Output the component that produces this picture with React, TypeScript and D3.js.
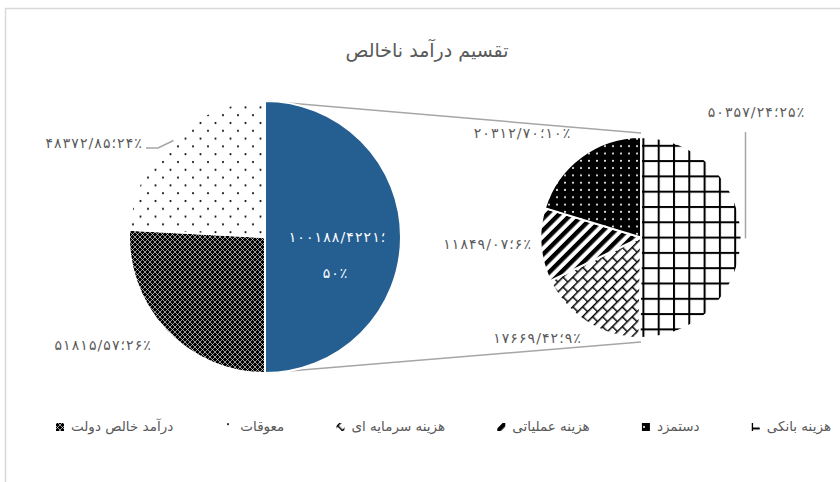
import React, { useEffect, useRef } from "react";
import * as d3 from "d3";

// ---------- data ----------
const chartTitle = "تقسیم درآمد ناخالص";

const mainCategories = ["سایر", "درآمد خالص دولت", "معوقات"];
const mainValues = [100188.4221, 51815.57, 48372.85];
const mainLabels = [["۱۰۰۱۸۸/۴۲۲۱؛", "۵۰٪"], ["۵۱۸۱۵/۵۷؛۲۶٪"], ["۴۸۳۷۲/۸۵؛۲۴٪"]];

const subCategories = ["هزینه بانکی", "هزینه سرمایه ای", "هزینه عملیاتی", "دستمزد"];
const subValues = [50357.24, 17669.42, 11849.07, 20312.7];
const subLabels = ["۵۰۳۵۷/۲۴؛۲۵٪", "۱۷۶۶۹/۴۲؛۹٪", "۱۱۸۴۹/۰۷؛۶٪", "۲۰۳۱۲/۷۰؛۱۰٪"];

const legendOrder = ["هزینه بانکی", "دستمزد", "هزینه عملیاتی", "هزینه سرمایه ای", "معوقات", "درآمد خالص دولت"];

// ---------- styling / layout ----------
const W = 840;
const H = 482;
const FONT = "'DejaVu Sans', sans-serif";
const fillByCategory: Record<string, string> = {
  "سایر": "#255E91",
  "درآمد خالص دولت": "url(#pCross)",
  "معوقات": "url(#pDots)",
  "هزینه بانکی": "url(#pGrid)",
  "هزینه سرمایه ای": "url(#pBrick)",
  "هزینه عملیاتی": "url(#pStripe)",
  "دستمزد": "url(#pBlackDots)",
};
const mainGeo = { cx: 265, cy: 237, r: 136 };
const subGeo = { cx: 641, cy: 237.5, r: 100.5 };
// label offsets relative to pie centre: [dx, dy, anchor]
const mainLabelLayout: [number, number, string][] = [
  [0, 0, "middle"],
  [-113, 113, "end"],
  [-122, -89, "end"],
];
const subLabelLayout: [number, number, string][] = [
  [115, -120.5, "middle"],
  [-104, 105.5, "middle"],
  [-109, 11.5, "end"],
  [-119, -99.5, "middle"],
];
const LABEL_STRETCH = 1.17;

const bidi = (s: string) => "\u202D" + s + "\u202C";

export default function App() {
  const ref = useRef<SVGSVGElement>(null);

  useEffect(() => {
    const svg = d3.select(ref.current);
    svg.selectAll("*").remove();

    const defs = svg.append("defs");
    // grid
    const pg = defs.append("pattern").attr("id", "pGrid").attr("patternUnits", "userSpaceOnUse")
      .attr("width", 15.3).attr("height", 15.3).attr("x", 644).attr("y", 136.8);
    pg.append("rect").attr("width", 15.3).attr("height", 15.3).attr("fill", "#fff");
    pg.append("rect").attr("width", 2).attr("height", 15.3).attr("fill", "#000");
    pg.append("rect").attr("width", 15.3).attr("height", 2).attr("fill", "#000");
    // bricks
    const pb = defs.append("pattern").attr("id", "pBrick").attr("patternUnits", "userSpaceOnUse")
      .attr("width", 14).attr("height", 14).attr("patternTransform", "rotate(-45)");
    pb.append("rect").attr("width", 14).attr("height", 14).attr("fill", "#fff");
    pb.append("path").attr("d", "M0 0.7H14M0 7.7H14M0.7 0.7V7.7M7.7 7.7V14.7")
      .attr("stroke", "#000").attr("stroke-width", 1.5).attr("fill", "none");
    // stripes
    const ps = defs.append("pattern").attr("id", "pStripe").attr("patternUnits", "userSpaceOnUse")
      .attr("width", 8.5).attr("height", 8.5).attr("patternTransform", "rotate(45)");
    ps.append("rect").attr("width", 8.5).attr("height", 8.5).attr("fill", "#fff");
    ps.append("rect").attr("width", 4.4).attr("height", 8.5).attr("fill", "#000");
    // black dots
    const pbd = defs.append("pattern").attr("id", "pBlackDots").attr("patternUnits", "userSpaceOnUse")
      .attr("width", 8).attr("height", 7.3);
    pbd.append("rect").attr("width", 8).attr("height", 7.3).attr("fill", "#000");
    pbd.append("circle").attr("cx", 4).attr("cy", 3.6).attr("r", 1).attr("fill", "#fff");
    // sparse dots
    const pd = defs.append("pattern").attr("id", "pDots").attr("patternUnits", "userSpaceOnUse")
      .attr("width", 15).attr("height", 15.6);
    pd.append("rect").attr("width", 15).attr("height", 15.6).attr("fill", "#fff");
    pd.append("circle").attr("cx", 3).attr("cy", 3).attr("r", 1.1).attr("fill", "#111");
    pd.append("circle").attr("cx", 10.5).attr("cy", 10.8).attr("r", 1.1).attr("fill", "#111");
    // dark cross
    const pc = defs.append("pattern").attr("id", "pCross").attr("patternUnits", "userSpaceOnUse")
      .attr("width", 5).attr("height", 5);
    pc.append("rect").attr("width", 5).attr("height", 5).attr("fill", "#000");
    pc.append("path").attr("d", "M0 0L5 5M5 0L0 5").attr("stroke", "#fff").attr("stroke-width", 0.6);

    svg.append("rect").attr("width", W).attr("height", H).attr("fill", "#fff");
    svg.append("rect").attr("x", 5.5).attr("y", 8.5).attr("width", W + 20).attr("height", H + 20)
      .attr("fill", "none").attr("stroke", "#d9d9d9").attr("stroke-width", 1.5);

    // title
    svg.append("text").attr("x", 427).attr("y", 57).attr("text-anchor", "middle")
      .attr("font-family", FONT).attr("font-size", 19).attr("fill", "#595959").text(chartTitle);

    const pie = d3.pie<number>().sort(null).value((d) => d);
    const mainArcs = pie(mainValues);
    const subArcs = pie(subValues);

    // connector lines
    const cg = svg.append("g").attr("stroke", "#a6a6a6").attr("stroke-width", 1.5).attr("fill", "none");
    cg.append("line").attr("x1", mainGeo.cx).attr("y1", mainGeo.cy - mainGeo.r)
      .attr("x2", subGeo.cx).attr("y2", subGeo.cy - subGeo.r - 4);
    cg.append("line").attr("x1", mainGeo.cx).attr("y1", mainGeo.cy + mainGeo.r)
      .attr("x2", subGeo.cx).attr("y2", subGeo.cy + subGeo.r + 4);

    const mainArc = d3.arc<d3.PieArcDatum<number>>().innerRadius(0).outerRadius(mainGeo.r);
    const subArc = d3.arc<d3.PieArcDatum<number>>().innerRadius(0).outerRadius(subGeo.r);

    const mg = svg.append("g");
    mg.selectAll("path").data(mainArcs).join("path")
      .attr("transform", `translate(${mainGeo.cx},${mainGeo.cy})`)
      .attr("d", mainArc as any)
      .attr("fill", (_d, i) => fillByCategory[mainCategories[i]])
      .attr("stroke", "#fff").attr("stroke-width", 2).attr("stroke-linejoin", "round");

    const sg = svg.append("g");
    sg.selectAll("path").data(subArcs).join("path")
      .attr("transform", `translate(${subGeo.cx},${subGeo.cy})`)
      .attr("d", subArc as any)
      .attr("fill", (_d, i) => fillByCategory[subCategories[i]])
      .attr("stroke", "#fff").attr("stroke-width", 2).attr("stroke-linejoin", "round");

    // labels
    const lg = svg.append("g").attr("font-family", FONT).attr("font-size", 14);
    const stretch = (t: d3.Selection<SVGTextElement, unknown, null, undefined>) => {
      const w = (t.node() as SVGTextElement).getComputedTextLength();
      t.attr("textLength", w * LABEL_STRETCH).attr("lengthAdjust", "spacing");
    };
    const c0 = mainArc.centroid(mainArcs[0]);
    stretch(lg.append("text").attr("x", mainGeo.cx + c0[0] + 4).attr("y", mainGeo.cy + c0[1] + 5)
      .attr("text-anchor", "middle").attr("fill", "#fff").text(bidi(mainLabels[0][0])) as any);
    stretch(lg.append("text").attr("x", mainGeo.cx + c0[0] + 2).attr("y", mainGeo.cy + c0[1] + 41)
      .attr("text-anchor", "middle").attr("fill", "#fff").text(bidi(mainLabels[0][1])) as any);
    for (let i = 1; i < mainLabels.length; i++) {
      const [dx, dy, anchor] = mainLabelLayout[i];
      stretch(lg.append("text").attr("x", mainGeo.cx + dx).attr("y", mainGeo.cy + dy)
        .attr("text-anchor", anchor).attr("fill", "#595959").text(bidi(mainLabels[i][0])) as any);
    }
    subLabels.forEach((lab, i) => {
      const [dx, dy, anchor] = subLabelLayout[i];
      stretch(lg.append("text").attr("x", subGeo.cx + dx).attr("y", subGeo.cy + dy)
        .attr("text-anchor", anchor).attr("fill", "#595959").text(bidi(lab)) as any);
    });

    // leader lines
    const ll = svg.append("g").attr("stroke", "#a6a6a6").attr("stroke-width", 1.5).attr("fill", "none");
    {
      const a = (mainArcs[2].startAngle + mainArcs[2].endAngle) / 2;
      const ex = mainGeo.cx + Math.sin(a) * (mainGeo.r - 3);
      const ey = mainGeo.cy - Math.cos(a) * (mainGeo.r - 3);
      const lx = mainGeo.cx + mainLabelLayout[2][0] + 3;
      const ly = mainGeo.cy + mainLabelLayout[2][1];
      ll.append("path").attr("d", `M${lx},${ly}H${lx + 12}L${ex},${ey}`);
    }
    {
      const a = (subArcs[0].startAngle + subArcs[0].endAngle) / 2;
      const ex = subGeo.cx + Math.sin(a) * subGeo.r + 4;
      const ey = subGeo.cy - Math.cos(a) * subGeo.r;
      ll.append("path").attr("d", `M${ex},${subGeo.cy + subLabelLayout[0][1] + 15}V${ey}`);
    }

    // legend: flow right-to-left, icon on the left of each text
    const leg = svg.append("g").attr("font-family", FONT).attr("font-size", 13.5).attr("fill", "#595959");
    const legRight = 831;
    const legLeft = 56;
    const iconSize = 8;
    const iconGap = 7;
    const texts = legendOrder.map((name) =>
      leg.append("text").attr("y", 431).attr("text-anchor", "end").text(name)
    );
    const widths = texts.map((t) => (t.node() as SVGTextElement).getComputedTextLength());
    const used = d3.sum(widths) + legendOrder.length * (iconSize + iconGap);
    const gap = (legRight - legLeft - used) / (legendOrder.length - 1);
    let x = legRight;
    legendOrder.forEach((name, i) => {
      texts[i].attr("x", x);
      const ix = x - widths[i] - iconGap - iconSize;
      leg.append("rect").attr("x", ix).attr("y", 423).attr("width", iconSize).attr("height", iconSize)
        .attr("fill", fillByCategory[name]);
      x = ix - gap;
    });
  }, []);

  return (
    <svg
      ref={ref}
      width={W}
      height={H}
      style={{ position: "absolute", left: 0, top: 0, display: "block" }}
    />
  );
}
